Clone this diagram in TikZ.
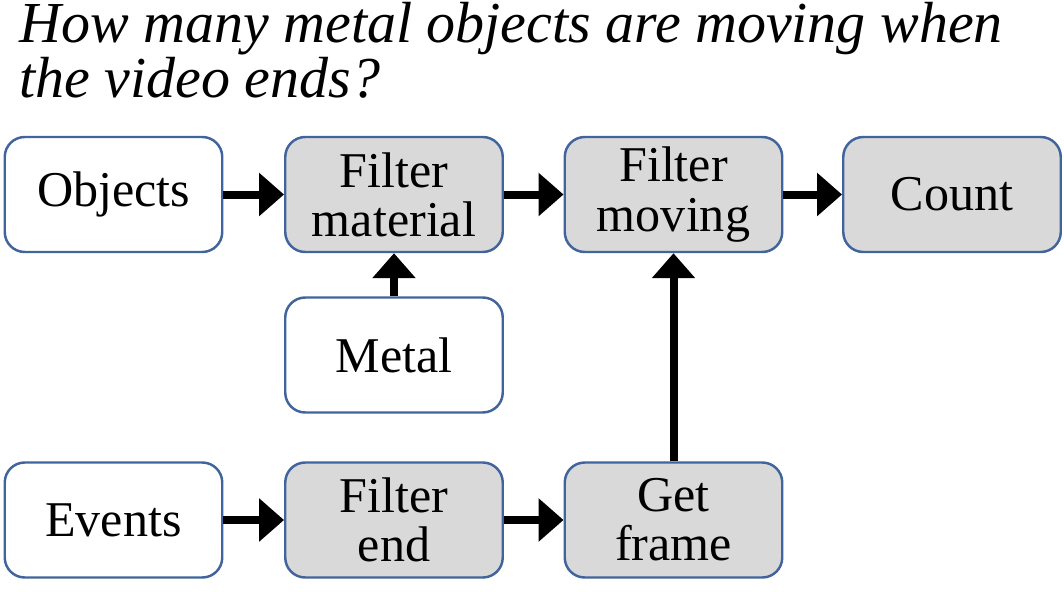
\documentclass[tikz,border=0pt]{standalone}
\usepackage{fontspec}
\setmainfont{Liberation Serif}
\usepackage{tikz}
\usetikzlibrary{positioning,arrows.meta}
\definecolor{boxblue}{RGB}{64,100,155}
\definecolor{opgray}{RGB}{217,217,217}
\tikzset{
  flowarrow/.style={-{Triangle[length=0.5cm, width=0.84cm]}, line width=0.16cm},
  inputnode/.style={draw=boxblue, rounded corners=0.4cm, line width=1.4pt, fill=white, minimum width=4.35cm, minimum height=2.3cm, align=center},
  opnode/.style={inputnode, fill=opgray},
  question/.style={anchor=base west, align=left, inner sep=0pt, font=\itshape\fontsize{33}{28.5}\selectfont}
}

\begin{document}
\begin{tikzpicture}[>=Triangle, every node/.style={font=\fontsize{28.5}{28}\selectfont}]
  \useasboundingbox (0,0) rectangle (21.28,11.82);
  \node[question] (q) at (0.38,9.88) {How many metal objects are moving when\\the video ends?};
  % top row
  \node[inputnode] (obj) at (2.27,7.93) {Objects};
  \node[opnode] (fmat) at (7.88,7.93) {Filter\\material};
  \node[opnode] (fmov) at (13.47,7.93) {Filter\\moving};
  \node[opnode] (cnt) at (19.04,7.93) {Count};
  \node[inputnode] (metal) at (7.88,4.72) {Metal};
  % bottom row
  \node[inputnode] (evt) at (2.27,1.42) {Events};
  \node[opnode] (fend) at (7.88,1.42) {Filter\\end};
  \node[opnode] (gframe) at (13.47,1.42) {Get\\frame};
  \draw[flowarrow] (obj) -- (fmat);
  \draw[flowarrow] (fmat) -- (fmov);
  \draw[flowarrow] (fmov) -- (cnt);
  \draw[flowarrow] (metal) -- (fmat);
  \draw[flowarrow] (evt) -- (fend);
  \draw[flowarrow] (fend) -- (gframe);
  \draw[flowarrow] (gframe) -- (fmov);
\end{tikzpicture}
\end{document}
